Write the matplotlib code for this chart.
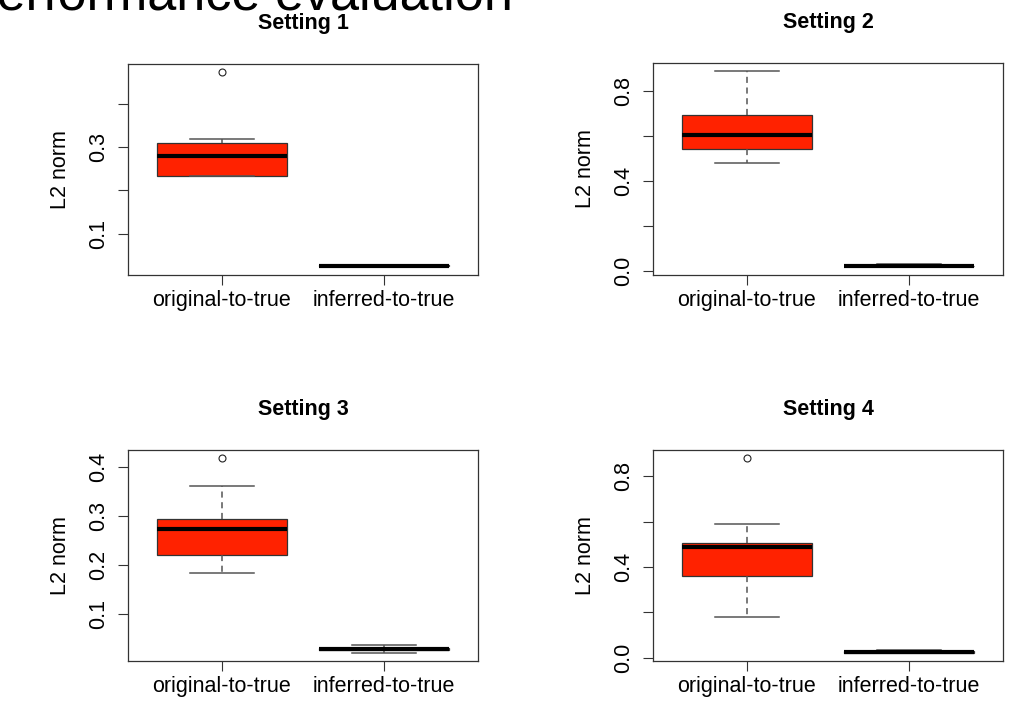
import matplotlib
matplotlib.use('Agg')
import matplotlib.pyplot as plt

plt.rcParams['font.family'] = ['Liberation Sans', 'DejaVu Sans']

# --- data (box plot summaries) ---
groups = ['original-to-true', 'inferred-to-true']
titles = ['Setting 1', 'Setting 2', 'Setting 3', 'Setting 4']

orig_whislo = [0.233, 0.479, 0.184, 0.181]
orig_q1 = [0.233, 0.542, 0.221, 0.358]
orig_med = [0.278, 0.606, 0.274, 0.490]
orig_q3 = [0.310, 0.695, 0.295, 0.504]
orig_whishi = [0.318, 0.890, 0.361, 0.589]
orig_fliers = [[0.473], [], [0.419], [0.881]]

inf_whislo = [0.023, 0.018, 0.021, 0.020]
inf_q1 = [0.025, 0.021, 0.027, 0.023]
inf_med = [0.026, 0.022, 0.029, 0.025]
inf_q3 = [0.027, 0.024, 0.031, 0.028]
inf_whishi = [0.029, 0.030, 0.037, 0.035]

yticks = [[0.1, 0.2, 0.3, 0.4], [0.0, 0.2, 0.4, 0.6, 0.8],
          [0.1, 0.2, 0.3, 0.4], [0.0, 0.2, 0.4, 0.6, 0.8]]
yticklabels = [['0.1', '', '0.3', ''], ['0.0', '', '0.4', '', '0.8'],
               ['0.1', '0.2', '0.3', '0.4'], ['0.0', '', '0.4', '', '0.8']]

W, H = 1025, 701
# axes boxes in pixels: left, top, right, bottom
boxes = [(128, 64, 478, 275), (653, 63, 1003, 275),
         (128, 450, 478, 661), (653, 450, 1003, 661)]

red = '#ff2200'
dark = '#333333'
grey = '#555555'
fs = 15.5

fig = plt.figure(figsize=(W / 100, H / 100), dpi=100)

# slide title, partly cut off at the top edge
fig.text(-38 / W, 1 - 10 / H, 'Performance evaluation', fontsize=37.5,
         ha='left', va='baseline', color='black')

for i in range(4):
    l, t, r, b = boxes[i]
    ax = fig.add_axes([l / W, 1 - b / H, (r - l) / W, (b - t) / H])

    stats = [
        dict(whislo=orig_whislo[i], q1=orig_q1[i], med=orig_med[i],
             q3=orig_q3[i], whishi=orig_whishi[i], fliers=orig_fliers[i]),
        dict(whislo=inf_whislo[i], q1=inf_q1[i], med=inf_med[i],
             q3=inf_q3[i], whishi=inf_whishi[i], fliers=[]),
    ]
    ax.bxp(stats, positions=[1, 2], widths=0.8, capwidths=0.4,
           patch_artist=True,
           boxprops=dict(facecolor=red, edgecolor=dark, linewidth=0.9),
           medianprops=dict(color='black', linewidth=3, solid_capstyle='butt'),
           whiskerprops=dict(color=grey, linewidth=1.1, linestyle=(0, (4, 3))),
           capprops=dict(color=grey, linewidth=1.1),
           flierprops=dict(marker='o', markerfacecolor='none',
                           markeredgecolor='#222222', markersize=5,
                           markeredgewidth=0.8))

    # R style 4% padding on the data range
    lo = min(orig_whislo[i], inf_whislo[i])
    hi = max([orig_whishi[i]] + orig_fliers[i])
    pad = 0.04 * (hi - lo)
    ax.set_ylim(lo - pad, hi + pad)
    ax.set_xlim(0.42, 2.58)

    ax.set_xticks([1, 2])
    ax.set_xticklabels(groups)
    ax.set_yticks(yticks[i])
    ax.set_yticklabels(yticklabels[i])
    plt.setp(ax.get_yticklabels(), rotation=90, va='center')

    ax.tick_params(axis='both', length=7.2, width=0.8, color=dark,
                   labelsize=fs)
    ax.tick_params(axis='x', pad=3.6)
    ax.tick_params(axis='y', pad=6.5)
    for sp in ax.spines.values():
        sp.set_color(dark)
        sp.set_linewidth(0.9)

    ax.set_ylabel('L2 norm', fontsize=fs, labelpad=12)
    ax.set_title(titles[i], fontsize=fs, fontweight='bold', pad=25.5)

fig.savefig('out.png', dpi=100)
